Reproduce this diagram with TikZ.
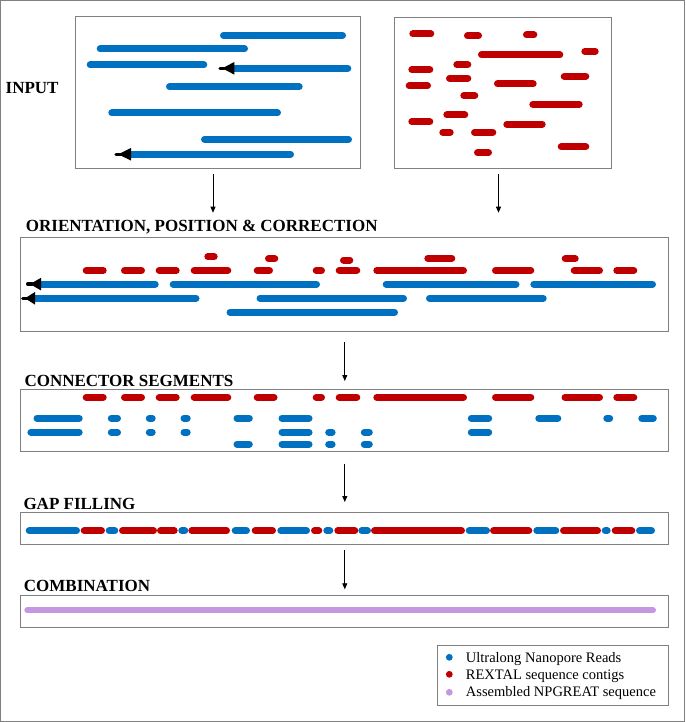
\documentclass[tikz,border=0pt]{standalone}
\usepackage{fontspec}
\setmainfont{Liberation Serif}
\usetikzlibrary{arrows.meta}
\definecolor{nblue}{RGB}{0,112,192}
\definecolor{nred}{RGB}{192,0,0}
\definecolor{npur}{RGB}{196,152,224}
\definecolor{frame}{RGB}{128,128,128}
\newcommand\segm[4]{\draw[#1] ({#2+3.5},#4) -- ({#3-3.5},#4);}
\newcommand\arrread[4]{%
  \draw[bl] (#2,#4) -- ({#3-3.5},#4);
  \fill[black] ({#2+1},{#4-6.3}) -- ({#1+4},#4) -- ({#2+1},{#4+6.3}) -- cycle;
  \draw[black,line width=3.5pt,line cap=round] ({#1+1.75},#4) -- ({#1+6},#4);}
\begin{document}
\begin{tikzpicture}[x=1pt,y=-1pt,
  bl/.style={line width=7pt,line cap=round,draw=nblue},
  rd/.style={line width=7pt,line cap=round,draw=nred},
  pu/.style={line width=6pt,line cap=round,draw=npur},
  box/.style={draw=frame,line width=1pt,inner sep=0pt,outer sep=0pt,anchor=north west},
  ttl/.style={inner sep=0pt,anchor=base west,font=\fontsize{17}{20}\selectfont\bfseries},
  lgt/.style={inner sep=0pt,anchor=base west,font=\fontsize{14.5}{17}\selectfont},
  arr/.style={draw=black,line width=0.8pt,-{Triangle[length=6pt,width=5pt]}}]
\useasboundingbox (0,0) rectangle (685,722);
\draw[frame,line width=1pt] (0.5,0.5) rectangle (684.5,721.5);

% boxes
\node[box,minimum width=285pt,minimum height=152pt] (inl) at (75,17) {};
\node[box,minimum width=216.7pt,minimum height=151.3pt] (inr) at (394.6,17.5) {};
\node[box,minimum width=648.2pt,minimum height=93.2pt] (ori) at (20.6,237.8) {};
\node[box,minimum width=648.2pt,minimum height=62pt] (con) at (20.6,389.2) {};
\node[box,minimum width=648pt,minimum height=32.5pt] (gap) at (20.8,512) {};
\node[box,minimum width=648pt,minimum height=31.8pt] (com) at (20.8,595.5) {};
\node[box,minimum width=231pt,minimum height=60.2pt] (leg) at (437.5,645.5) {};

% titles
\node[ttl] (tin) at (5.5,93.5) {INPUT};
\node[ttl] (tori) at (25.7,231) {ORIENTATION, POSITION \& CORRECTION};
\node[ttl] (tcon) at (24.3,386) {CONNECTOR SEGMENTS};
\node[ttl] (tgap) at (23.3,509.5) {GAP FILLING};
\node[ttl] (tcom) at (23.7,591) {COMBINATION};

% arrows
\coordinate (a1s) at (213,174);   \coordinate (a1e) at (213,212.7);
\coordinate (a2s) at (498.5,174); \coordinate (a2e) at (498.5,212.7);
\coordinate (a3s) at (344.8,342); \coordinate (a3e) at (344.8,381);
\coordinate (a4s) at (344.8,463.6); \coordinate (a4e) at (344.8,502);
\coordinate (a5s) at (344.8,550); \coordinate (a5e) at (344.8,589.3);
\draw[arr] (a1s) -- (a1e);
\draw[arr] (a2s) -- (a2e);
\draw[arr] (a3s) -- (a3e);
\draw[arr] (a4s) -- (a4e);
\draw[arr] (a5s) -- (a5e);

% input reads
\segm{bl}{220}{346}{35.3}
\segm{bl}{96.7}{248}{49}
\segm{bl}{86.7}{207.3}{65}
\arrread{218.3}{233.3}{351.3}{68.3}
\segm{bl}{166}{302.7}{86.7}
\segm{bl}{108.3}{281}{113}
\segm{bl}{201}{352}{139.3}
\arrread{114.3}{130}{294}{154.3}

% input contigs
\segm{rd}{409.3}{434.3}{34}
\segm{rd}{464}{482}{36}
\segm{rd}{523}{537.3}{35}
\segm{rd}{478}{563.3}{55}
\segm{rd}{581.3}{598.7}{51.3}
\segm{rd}{453.3}{471.3}{64.7}
\segm{rd}{408.3}{433.3}{69.7}
\segm{rd}{446}{471.3}{78.3}
\segm{rd}{560.7}{589.3}{76.3}
\segm{rd}{405.7}{431}{86}
\segm{rd}{494}{536.7}{84}
\segm{rd}{460.3}{478.3}{95.7}
\segm{rd}{529.3}{582.7}{104.3}
\segm{rd}{443.3}{468.3}{115}
\segm{rd}{408.3}{433.3}{121.7}
\segm{rd}{503.3}{545.7}{124.3}
\segm{rd}{439.3}{453.7}{132.3}
\segm{rd}{471}{496.3}{132.3}
\segm{rd}{557.7}{589.3}{146.7}
\segm{rd}{474}{492}{152.7}

% orientation
\foreach \a/\b in {82.7/106.7,121/145,155.7/179.7,190.7/231.3,253.7/273,312.7/325,335.7/360.3,373.3/467,492/534.3,570.7/603,613.3/637.3}
  {\segm{rd}{\a}{\b}{270.5}}
\segm{rd}{204.3}{217.7}{256.7}
\segm{rd}{265}{278.3}{258.7}
\segm{rd}{340}{353.3}{260}
\segm{rd}{424.3}{455.3}{258.2}
\segm{rd}{561.7}{578.7}{258.7}
\arrread{26}{40}{158.7}{284.1}
\segm{bl}{169.7}{320}{284.1}
\segm{bl}{382.7}{519.5}{284.1}
\segm{bl}{530.3}{656}{284.1}
\arrread{21}{34}{199.5}{298.3}
\segm{bl}{256.5}{407}{298.3}
\segm{bl}{426}{546.7}{298.3}
\segm{bl}{226.5}{398}{312.3}

% connector segments
\foreach \a/\b in {82.7/106.7,121/145,155.7/179.7,190.7/231.3,253.7/277.5,312.7/325,335.7/360.3,373.3/467,492/534.3,561.5/603,613.3/637.3}
  {\segm{rd}{\a}{\b}{397.3}}
\foreach \a/\b in {33.5/82.7,107.8/121,145.8/155.7,180.5/190.7,233.5/252.8,278.5/312.5,467.8/492.2,535.3/561.3,603.3/613.2,638.3/656.8}
  {\segm{bl}{\a}{\b}{418.2}}
\foreach \a/\b in {27.4/82.7,107.8/121,145.8/155.7,180.5/190.7,278.5/312.5,325.2/335.6,360.8/372.8,467.8/492.2}
  {\segm{bl}{\a}{\b}{432.3}}
\foreach \a/\b in {233.5/252.8,278.5/312.5,325.2/335.6,360.8/372.8}
  {\segm{bl}{\a}{\b}{444.2}}

% gap filling
\foreach \s/\a/\b in {bl/25.7/80,rd/80.7/105,bl/105.7/118.3,rd/119/157,rd/157/177.7,bl/178.3/188.3,rd/188.3/230,bl/231.7/250,rd/251.7/276,bl/277.3/310,rd/311/322.3,bl/323.3/333.3,rd/334.3/358.3,bl/358.3/371,rd/371/465,bl/465.7/490,rd/490/532.3,bl/533.3/559.3,rd/560/601,bl/601.7/610.7,rd/611.7/635.3,bl/636/655}
  {\segm{\s}{\a}{\b}{530.7}}

% combination
\draw[pu] (27.3,610.3) -- (653,610.3);

% legend
\fill[nblue] (449.3,657.3) circle (3.4);
\fill[nred] (449.3,674.3) circle (3.4);
\fill[npur] (449.3,692.3) circle (3.4);
\node[lgt] (l1) at (465.7,662) {Ultralong Nanopore Reads};
\node[lgt] (l2) at (465.7,679.2) {REXTAL sequence contigs};
\node[lgt] (l3) at (465.7,696.7) {Assembled NPGREAT sequence};
\end{tikzpicture}
\end{document}
